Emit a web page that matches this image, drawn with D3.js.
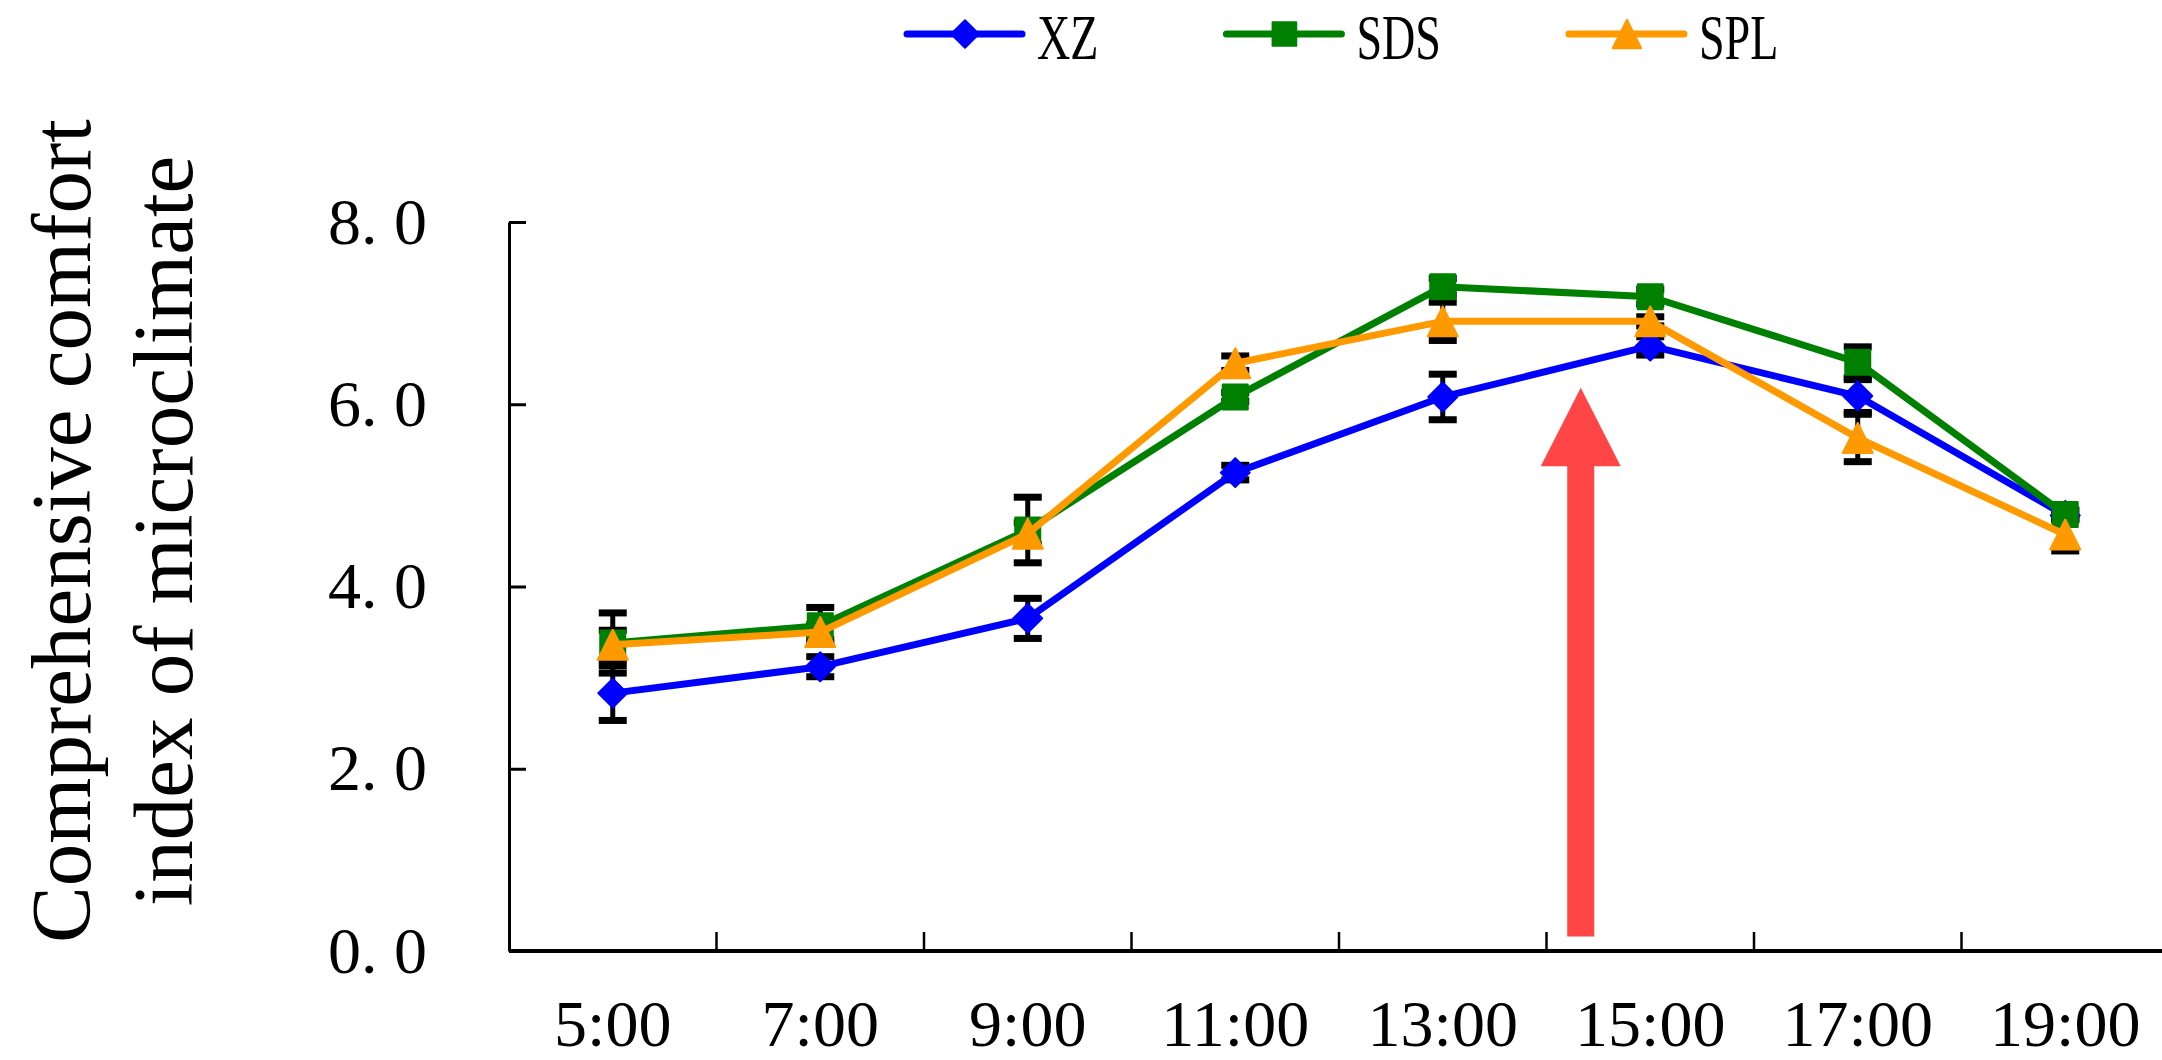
<!DOCTYPE html>
<html>
<head>
<meta charset="utf-8">
<script src="https://cdn.jsdelivr.net/npm/d3@7"></script>
<style>
    body { margin: 0; background: #fff; }
    svg { display: block; background: #fff; }
</style>
</head>
<body>
<div id="chart"></div>
<script>
// data
const times = ["5:00", "7:00", "9:00", "11:00", "13:00", "15:00", "17:00", "19:00"];
const hours = [5, 7, 9, 11, 13, 15, 17, 19];

const xzValues  = [2.83, 3.12, 3.65, 5.25, 6.08, 6.64, 6.09, 4.78];
const xzErrors  = [0.30, 0.11, 0.22, 0.08, 0.25, 0.10, 0.18, 0.05];
const sdsValues = [3.38, 3.57, 4.62, 6.08, 7.29, 7.18, 6.46, 4.79];
const sdsErrors = [0.33, 0.20, 0.36, 0.05, 0.09, 0.08, 0.17, 0.05];
const splValues = [3.36, 3.50, 4.58, 6.45, 6.91, 6.91, 5.63, 4.57];
const splErrors = [0.16, 0.08, 0.12, 0.08, 0.21, 0.05, 0.26, 0.18];

const yTicks = [0, 2, 4, 6, 8];
const yTickLabels = ["0. 0", "2. 0", "4. 0", "6. 0", "8. 0"];

// red arrow annotation (hour position, tip / neck / foot in index units)
const arrowHour = 14.33;
const arrowTip = 6.18;
const arrowNeck = 5.32;
const arrowFoot = 0.16;

const FONT = "'Liberation Serif', 'Times New Roman', serif";

const series = [
    { name: "XZ",  values: xzValues,  errors: xzErrors,  color: "#0000ff", shape: "diamond" },
    { name: "SDS", values: sdsValues, errors: sdsErrors, color: "#008000", shape: "square" },
    { name: "SPL", values: splValues, errors: splErrors, color: "#ff9900", shape: "triangle" }
];

const W = 2162, H = 1060;
const margin = { top: 222, left: 509, bottom: 109 };
const width = 1660;
const height = H - margin.top - margin.bottom;

const svg = d3.select("#chart").append("svg")
    .attr("width", W)
    .attr("height", H);

const g = svg.append("g")
    .attr("transform", `translate(${margin.left}, ${margin.top})`);

const x = d3.scaleBand().domain(times).range([0, width]);
const y = d3.scaleLinear().domain([0, 8]).range([height, 0]);
const hourX = d3.scaleLinear()
    .domain([hours[0], hours[hours.length - 1]])
    .range([x(times[0]) + x.bandwidth() / 2, x(times[times.length - 1]) + x.bandwidth() / 2]);
const cx = i => x(times[i]) + x.bandwidth() / 2;

// marker shapes
const triangleUp = {
    draw(ctx, size) {
        const s = Math.sqrt(size);
        ctx.moveTo(0, -s / 2);
        ctx.lineTo(s / 2, s / 2);
        ctx.lineTo(-s / 2, s / 2);
        ctx.closePath();
    }
};
function markerPath(shape) {
    if (shape === "square") return d3.symbol(d3.symbolSquare, 25 * 25)();
    if (shape === "diamond") return d3.symbol(d3.symbolSquare, 20.5 * 20.5)();
    return d3.symbol(triangleUp, 30 * 30)();
}

// Y axis
const yAxisG = g.append("g")
    .call(d3.axisLeft(y)
        .tickValues(yTicks)
        .tickFormat((d, i) => yTickLabels[i])
        .tickSizeInner(-17)
        .tickSizeOuter(0)
        .tickPadding(82))
    .attr("font-family", FONT)
    .attr("font-size", 66);
yAxisG.select(".domain").attr("stroke", "#000").attr("stroke-width", 3);
yAxisG.selectAll(".tick line").attr("stroke", "#000").attr("stroke-width", 3);
yAxisG.selectAll(".tick text").attr("fill", "#000");

// X axis: labels at band centres, ticks at band boundaries
const xAxisG = g.append("g")
    .attr("transform", `translate(0, ${height})`)
    .call(d3.axisBottom(x).tickSize(0).tickPadding(48))
    .attr("font-family", FONT)
    .attr("font-size", 66);
xAxisG.select(".domain").remove();
xAxisG.selectAll(".tick text").attr("fill", "#000");
xAxisG.append("line")
    .attr("x1", 0).attr("x2", width)
    .attr("stroke", "#000").attr("stroke-width", 4);
xAxisG.selectAll(".bound")
    .data(times.slice(1))
    .join("line")
    .attr("class", "bound")
    .attr("x1", d => x(d)).attr("x2", d => x(d))
    .attr("y1", 0).attr("y2", -19)
    .attr("stroke", "#000").attr("stroke-width", 2.5);

// error bars (under everything)
const errG = g.append("g");
series.forEach(s => {
    s.values.forEach((v, i) => {
        const e = s.errors[i];
        errG.append("line")
            .attr("x1", cx(i)).attr("x2", cx(i))
            .attr("y1", y(v + e)).attr("y2", y(v - e))
            .attr("stroke", "#000").attr("stroke-width", 5);
        [v + e, v - e].forEach(c => {
            errG.append("rect")
                .attr("x", cx(i) - 14).attr("y", y(c) - 3.5)
                .attr("width", 28).attr("height", 7)
                .attr("fill", "#000");
        });
    });
});

// lines and markers
const lineGen = d3.line()
    .x((d, i) => cx(i))
    .y(d => y(d));

series.forEach(s => {
    g.append("path")
        .datum(s.values)
        .attr("fill", "none")
        .attr("stroke", s.color)
        .attr("stroke-width", 7)
        .attr("stroke-linejoin", "round")
        .attr("d", lineGen);

    g.selectAll(".m-" + s.name)
        .data(s.values)
        .join("path")
        .attr("class", "m-" + s.name)
        .attr("d", markerPath(s.shape))
        .attr("transform", (d, i) => `translate(${cx(i)}, ${y(d)})` + (s.shape === "diamond" ? " rotate(45)" : ""))
        .attr("fill", s.color)
        .attr("stroke", s.color)
        .attr("stroke-width", 2)
        .attr("stroke-linejoin", "round");
});

// red arrow
const ax = hourX(arrowHour);
const arrow = d3.path();
arrow.moveTo(ax, y(arrowTip));
arrow.lineTo(ax + 40, y(arrowNeck));
arrow.lineTo(ax + 13.5, y(arrowNeck));
arrow.lineTo(ax + 13.5, y(arrowFoot));
arrow.lineTo(ax - 13.5, y(arrowFoot));
arrow.lineTo(ax - 13.5, y(arrowNeck));
arrow.lineTo(ax - 40, y(arrowNeck));
arrow.closePath();
g.append("path")
    .attr("d", arrow.toString())
    .attr("fill", "#ff4545");

// legend
const legend = svg.append("g");
let lx = 907;
const ly = 34;
series.forEach(s => {
    legend.append("line")
        .attr("x1", lx).attr("x2", lx + 115)
        .attr("y1", ly).attr("y2", ly)
        .attr("stroke", s.color).attr("stroke-width", 7)
        .attr("stroke-linecap", "round");
    legend.append("path")
        .attr("d", markerPath(s.shape))
        .attr("transform", `translate(${lx + 58}, ${ly})` + (s.shape === "diamond" ? " rotate(45) scale(0.95)" : " scale(0.95)"))
        .attr("fill", s.color)
        .attr("stroke", s.color)
        .attr("stroke-width", 2)
        .attr("stroke-linejoin", "round");
    const tx = lx + 130;
    const t = legend.append("text")
        .attr("transform", `translate(${tx}, 59) scale(0.72, 1)`)
        .attr("font-family", FONT)
        .attr("font-size", 64)
        .attr("fill", "#000")
        .text(s.name);
    const tw = t.node().getComputedTextLength() * 0.72;
    lx = tx + tw + 128;
});

// y axis title (two lines)
const title = svg.append("text")
    .attr("transform", "translate(90, 531) rotate(-90)")
    .attr("text-anchor", "middle")
    .attr("font-family", FONT)
    .attr("font-size", 85)
    .attr("fill", "#000");
title.append("tspan").attr("x", 0).attr("y", 0).text("Comprehensive comfort");
title.append("tspan").attr("x", 0).attr("y", 102).text("index of microclimate");
</script>
</body>
</html>
